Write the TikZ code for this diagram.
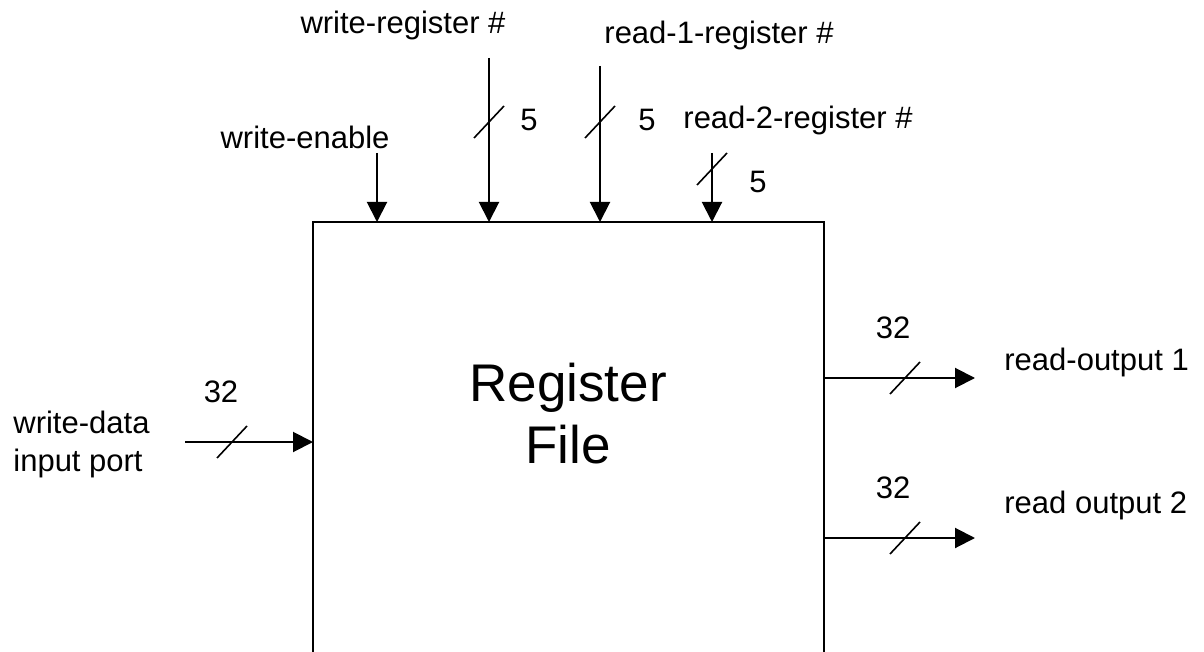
\documentclass[tikz,border=0pt]{standalone}
\usepackage{fontspec}
\setmainfont{Liberation Sans}
\usetikzlibrary{arrows.meta}
\begin{document}
\begin{tikzpicture}[x=0.5pt,y=-0.5pt,
  wire/.style={line width=1pt},
  sig/.style={wire,-{Triangle[width=10pt,length=10pt]}},
  busmark/.style={line width=0.8pt},
  lbl/.style={font=\fontsize{15.5}{19}\selectfont, inner sep=0pt},
  biglbl/.style={font=\fontsize{26.5}{31}\selectfont, inner sep=0pt, align=center},
]
\useasboundingbox (0,0) rectangle (1204,652);
\clip (0,0) rectangle (1204,652);

% the register file block (runs past the lower edge)
\node[draw, line width=1pt, anchor=north west, outer sep=0pt, inner sep=0pt,
      minimum width=255.5pt, minimum height=339pt] (rf) at (313,222) {};
\node[biglbl] (rftext) at (568,414) {Register\\File};

% control and register-number inputs on top
\coordinate (we) at (377,153);
\coordinate (wr) at (489,58);
\coordinate (r1) at (600,66);
\coordinate (r2) at (712,153);
\draw[sig] (we) -- (we |- rf.north);
\draw[sig] (wr) -- (wr |- rf.north);
\draw[sig] (r1) -- (r1 |- rf.north);
\draw[sig] (r2) -- (r2 |- rf.north);

\coordinate (wrbus) at (489,122);
\coordinate (r1bus) at (600,122);
\coordinate (r2bus) at (712,169);
\draw[busmark] ([shift={(-15,16)}]wrbus) -- ++(30,-32);
\draw[busmark] ([shift={(-15,16)}]r1bus) -- ++(30,-32);
\draw[busmark] ([shift={(-15,16)}]r2bus) -- ++(30,-32);

\node[lbl] (wrlbl) at (403,25) {write-register \#};
\node[lbl] (r1lbl) at (719,35) {read-1-register \#};
\node[lbl] (welbl) at (305,137) {write-enable};
\node[lbl] (r2lbl) at (798,120) {read-2-register \#};
\node[lbl] (wrw) at (529,120) {5};
\node[lbl] (r1w) at (647,120) {5};
\node[lbl] (r2w) at (758,182) {5};

% write-data input on the left
\coordinate (wd) at (185,442);
\draw[sig] (wd) -- (wd -| rf.west);
\coordinate (wdbus) at (232,442);
\draw[busmark] ([shift={(-15,16)}]wdbus) -- ++(30,-32);
\node[lbl] (wdw) at (221,392) {32};
\node[lbl, align=left, anchor=west] (wdlbl) at (13,444) {write-data\\input port};

% read outputs on the right
\coordinate (o1) at (975,378);
\coordinate (o2) at (975,538);
\draw[sig] (o1 -| rf.east) -- (o1);
\draw[sig] (o2 -| rf.east) -- (o2);
\coordinate (o1bus) at (905,378);
\coordinate (o2bus) at (905,538);
\draw[busmark] ([shift={(-15,16)}]o1bus) -- ++(30,-32);
\draw[busmark] ([shift={(-15,16)}]o2bus) -- ++(30,-32);
\node[lbl] (o1w) at (893,328) {32};
\node[lbl] (o2w) at (893,488) {32};
\node[lbl, anchor=west] (o1lbl) at (1004,362) {read-output 1};
\node[lbl, anchor=west] (o2lbl) at (1004,505) {read output 2};
\end{tikzpicture}
\end{document}
